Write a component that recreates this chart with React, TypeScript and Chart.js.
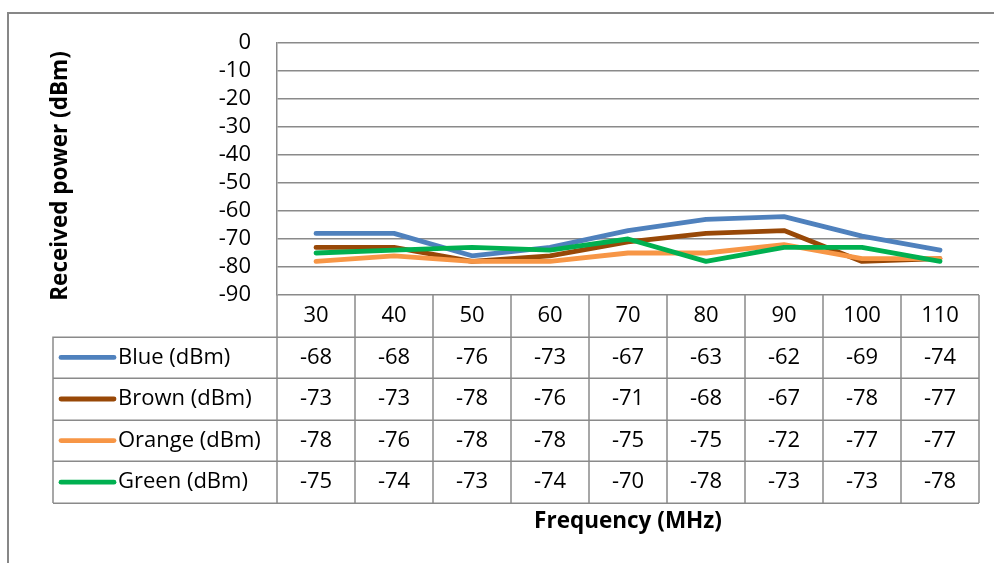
import { useEffect, useRef } from "react";
import { Chart, registerables } from "chart.js";

Chart.register(...registerables);

// Measurement frequencies (MHz)
const frequencies = ["30", "40", "50", "60", "70", "80", "90", "100", "110"];

// Received power per receiver (dBm)
const blueValues = [-68, -68, -76, -73, -67, -63, -62, -69, -74];
const brownValues = [-73, -73, -78, -76, -71, -68, -67, -78, -77];
const orangeValues = [-78, -76, -78, -78, -75, -75, -72, -77, -77];
const greenValues = [-75, -74, -73, -74, -70, -78, -73, -73, -78];

const seriesNames = ["Blue (dBm)", "Brown (dBm)", "Orange (dBm)", "Green (dBm)"];
const seriesColors = ["#4F81BD", "#984807", "#F79646", "#00B050"];

const yMin = -90;
const yMax = 0;
const yStep = 10;

const xTitle = "Frequency (MHz)";
const yTitle = "Received power (dBm)";

const FONT = "'Open Sans', Lato, sans-serif";
const LINE_GRAY = "#8a8a8a";

// Draws the frame, axis titles and the data table underneath the plot.
const decorPlugin = {
  id: "decor",
  beforeDraw(chart: any) {
    const { ctx } = chart;
    ctx.save();
    ctx.fillStyle = "#ffffff";
    ctx.fillRect(0, 0, chart.width, chart.height);
    ctx.strokeStyle = "#878787";
    ctx.lineWidth = 2;
    ctx.strokeRect(8, 13, chart.width + 20, chart.height + 20);
    ctx.restore();
  },
  afterDraw(chart: any) {
    const { ctx, chartArea } = chart;
    const xs = chart.scales.x;
    const n = frequencies.length;
    const colW = chartArea.width / n;
    const rowH = 41.6;
    const datasets = chart.data.datasets;
    const top = chartArea.bottom;
    const bottom = top + rowH * (datasets.length + 1);
    const tableLeft = 53;

    ctx.save();
    ctx.strokeStyle = LINE_GRAY;
    ctx.lineWidth = 1.5;
    ctx.beginPath();
    for (let r = 1; r <= datasets.length + 1; r++) {
      const y = Math.round(top + rowH * r) + 0.25;
      ctx.moveTo(tableLeft, y);
      ctx.lineTo(chartArea.right, y);
    }
    for (let k = 0; k <= n; k++) {
      const x = chartArea.left + colW * k;
      ctx.moveTo(x, top);
      ctx.lineTo(x, bottom);
    }
    ctx.moveTo(tableLeft, top + rowH);
    ctx.lineTo(tableLeft, bottom);
    ctx.stroke();

    ctx.fillStyle = "#000000";
    ctx.font = `22px ${FONT}`;
    ctx.textBaseline = "middle";
    ctx.textAlign = "center";
    frequencies.forEach((f, i) => {
      ctx.fillText(f, xs.getPixelForValue(i), top + rowH / 2);
    });

    datasets.forEach((ds: any, r: number) => {
      const cy = top + rowH * (r + 1) + rowH / 2;
      ctx.textAlign = "center";
      ctx.fillStyle = "#000000";
      ds.data.forEach((v: number, i: number) => {
        ctx.fillText(String(v), xs.getPixelForValue(i), cy);
      });
      // legend key
      ctx.strokeStyle = ds.borderColor;
      ctx.lineWidth = 4.8;
      ctx.lineCap = "round";
      ctx.beginPath();
      ctx.moveTo(61, cy);
      ctx.lineTo(114, cy);
      ctx.stroke();
      ctx.textAlign = "left";
      ctx.fillText(ds.label, 118, cy);
    });

    // axis titles
    ctx.font = `bold 22.5px ${FONT}`;
    ctx.textAlign = "center";
    ctx.textBaseline = "middle";
    ctx.fillText(xTitle, (chartArea.left + chartArea.right) / 2, 522);
    ctx.translate(61, 176);
    ctx.rotate(-Math.PI / 2);
    ctx.fillText(yTitle, 0, 0);
    ctx.restore();
  },
};

export default function App() {
  const canvasRef = useRef<HTMLCanvasElement | null>(null);

  useEffect(() => {
    if (!canvasRef.current) return;
    const values = [blueValues, brownValues, orangeValues, greenValues];
    const chart = new Chart(canvasRef.current, {
      type: "line",
      data: {
        labels: frequencies,
        datasets: values.map((data, i) => ({
          label: seriesNames[i],
          data,
          borderColor: seriesColors[i],
          backgroundColor: seriesColors[i],
          borderWidth: 4.8,
          borderCapStyle: "round" as const,
          borderJoinStyle: "round" as const,
          pointRadius: 0,
          tension: 0,
          order: values.length - i,
        })),
      },
      options: {
        responsive: false,
        animation: false,
        layout: { padding: { top: 43, right: 15, bottom: 268, left: 0 } },
        plugins: { legend: { display: false }, tooltip: { enabled: false } },
        scales: {
          x: { display: false, offset: true },
          y: {
            min: yMin,
            max: yMax,
            afterFit: (scale: any) => {
              scale.width = 277;
            },
            ticks: {
              stepSize: yStep,
              autoSkip: false,
              padding: 26,
              color: "#000000",
              font: { family: FONT, size: 22 },
            },
            grid: { color: LINE_GRAY, lineWidth: 1.5, drawTicks: false },
            border: { color: LINE_GRAY, width: 1.5 },
          },
        },
      },
      plugins: [decorPlugin],
    });
    return () => chart.destroy();
  }, []);

  return (
    <div style={{ position: "fixed", left: 0, top: 0, width: 994, height: 563, background: "#fff" }}>
      <canvas ref={canvasRef} width={994} height={563} />
    </div>
  );
}
